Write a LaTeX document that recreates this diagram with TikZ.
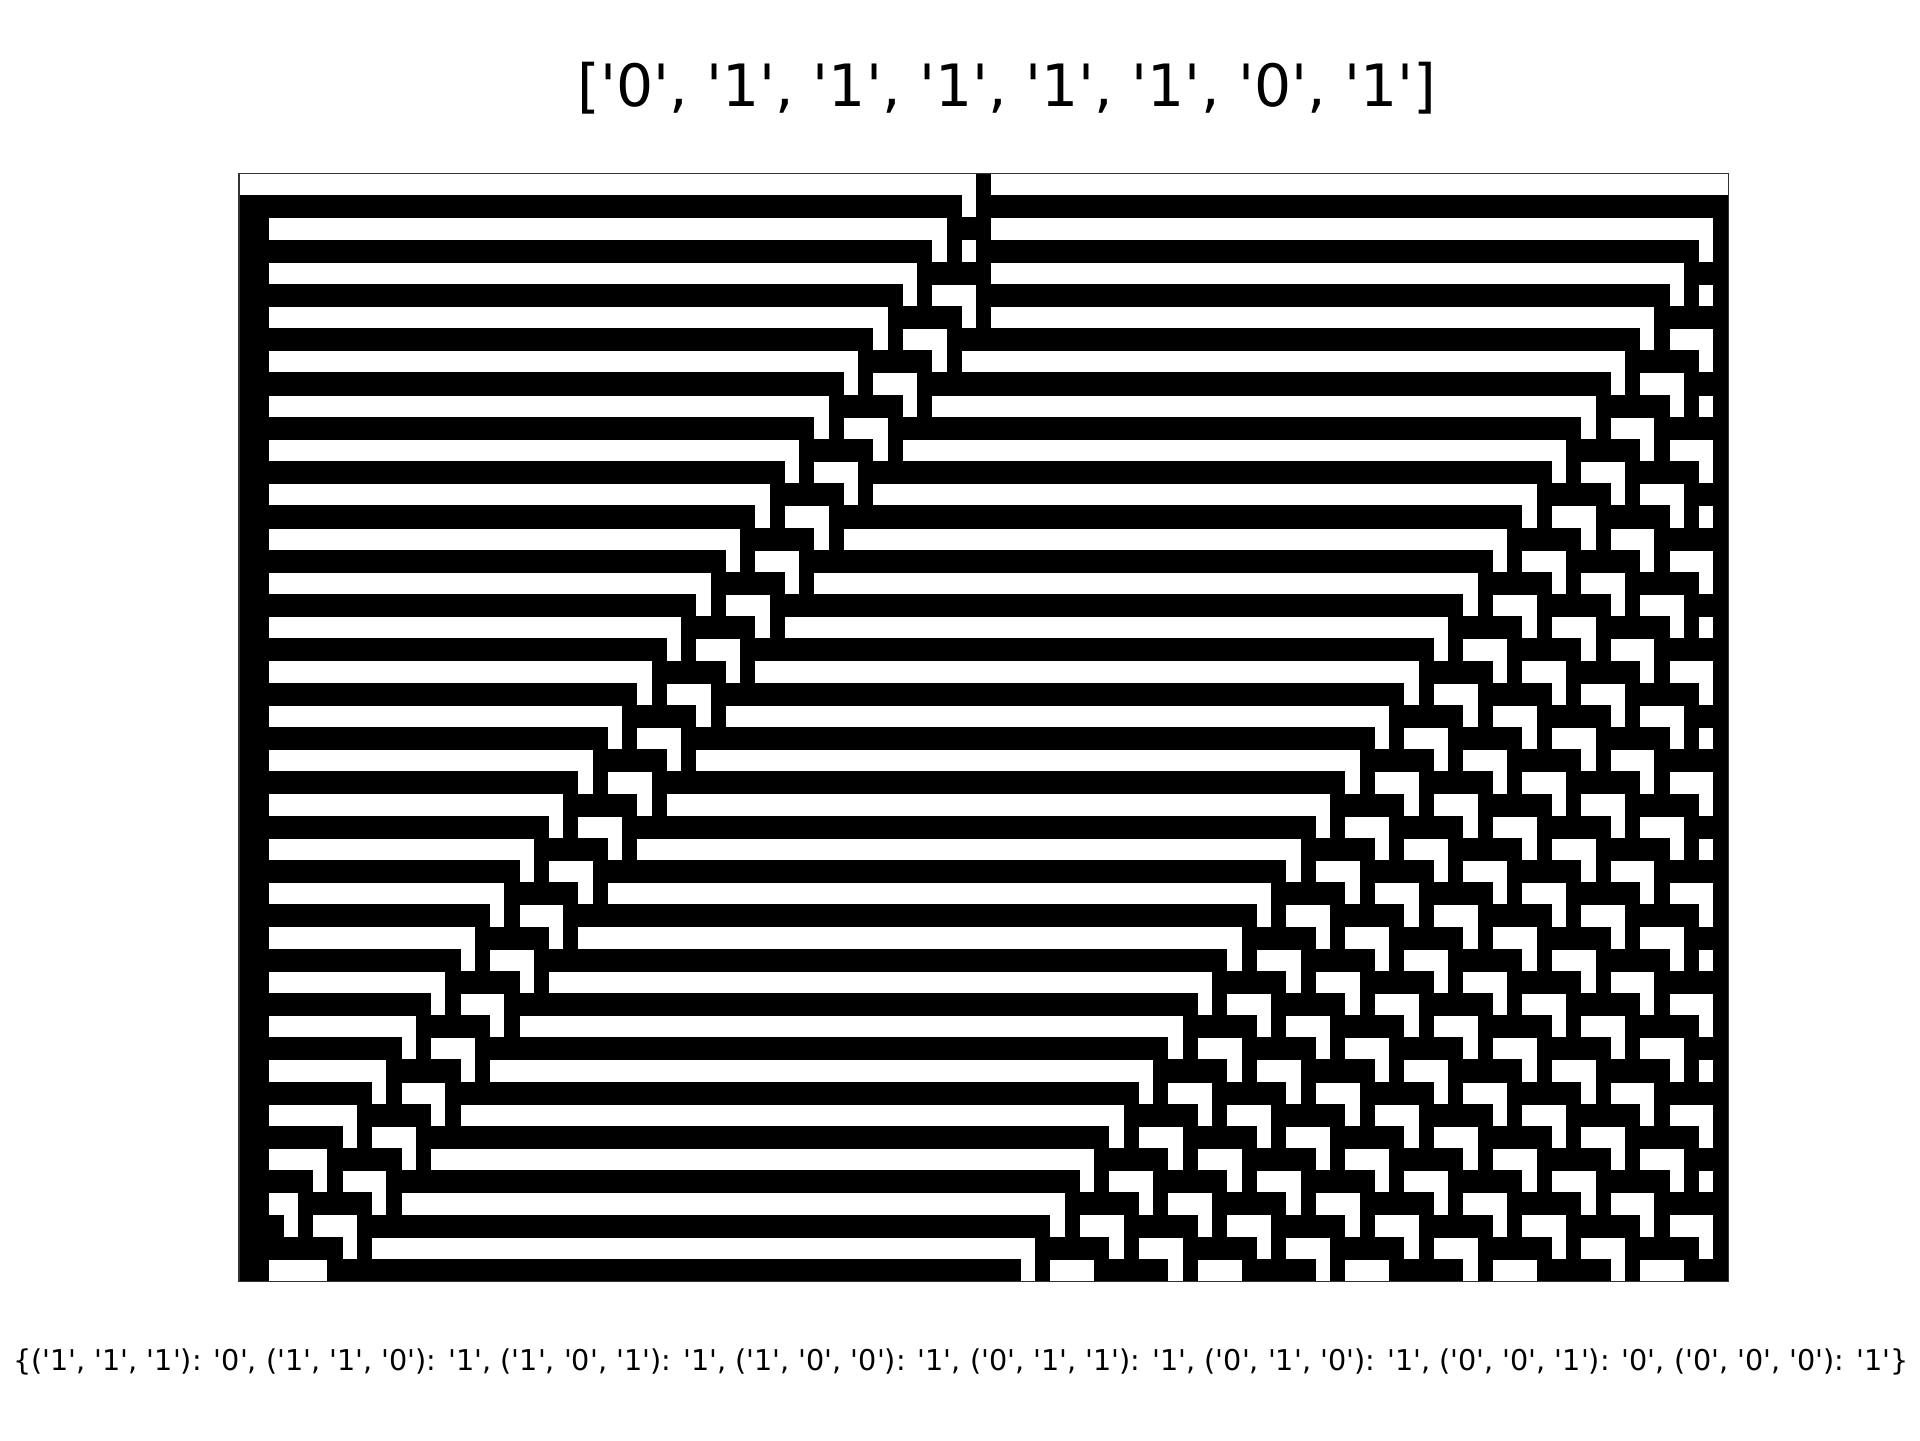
\documentclass[tikz,border=0pt]{standalone}

\font\rulefont="DejaVu Sans" at 8.15pt
\font\titlefont="DejaVu Sans" at 16.6pt

% cells of the automaton, 50 rows x 101 columns
\def\getcell#1#2{\ifcsname cell-#1-#2\endcsname\csname cell-#1-#2\endcsname\else0\fi}
\expandafter\gdef\csname cell-0-50\endcsname{1}
\foreach \r in {1,...,49}{%
  \foreach \c in {0,...,100}{%
    \edef\pa{\getcell{\the\numexpr\r-1\relax}{\the\numexpr\c-1\relax}}%
    \edef\pb{\getcell{\the\numexpr\r-1\relax}{\c}}%
    \edef\pc{\getcell{\the\numexpr\r-1\relax}{\the\numexpr\c+1\relax}}%
    \def\nw{1}%
    \ifnum\c>1
      \ifnum\pc=1 \ifnum\pa=\pb \def\nw{0}\fi\fi
    \fi
    \expandafter\xdef\csname cell-\r-\c\endcsname{\nw}%
  }%
}

\begin{document}
\begin{tikzpicture}[
    blackcell/.style={fill=black},
    frame/.style={draw=black!80, line width=0.3pt},
    label/.style={inner sep=0pt, anchor=base}
  ]
  \fill[white] (0,0) rectangle (19.2,14.4);
  \useasboundingbox (0,0) rectangle (19.2,14.4);

  \node[label] (rulelist) at (10.07,13.33) {\titlefont ['0', '1', '1', '1', '1', '1', '0', '1']};

  \begin{scope}[shift={(2.39,12.665)}, x=0.14748cm, y=-0.2216cm]
    \foreach \r in {0,...,49}{
      \foreach \c in {0,...,100}{
        \ifnum\getcell{\r}{\c}=1
          \fill[blackcell] (\c-0.02,\r-0.02) rectangle (\c+1.02,\r+1.02);
        \fi
      }
    }
    \draw[frame] (0,0) rectangle (101,50);
  \end{scope}

  \node[label] (ruletable) at (9.61,0.70) {\rulefont \{('1', '1', '1'): '0', ('1', '1', '0'): '1', ('1', '0', '1'): '1', ('1', '0', '0'): '1', ('0', '1', '1'): '1', ('0', '1', '0'): '1', ('0', '0', '1'): '0', ('0', '0', '0'): '1'\}};
\end{tikzpicture}
\end{document}
